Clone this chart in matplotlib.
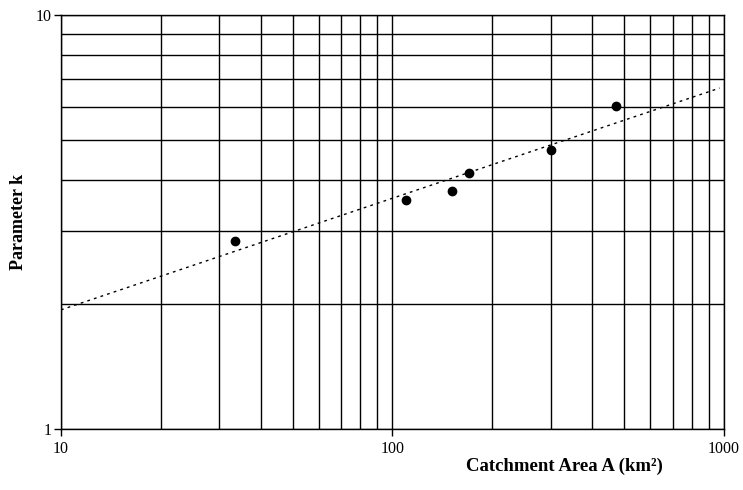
import numpy as np
import matplotlib.pyplot as plt
from matplotlib.ticker import LogLocator, NullFormatter, FixedLocator

# dados medidos (area da bacia em km2, parametro k)
area = [33.5, 110, 151, 170, 301, 473]
k = [2.85, 3.57, 3.76, 4.15, 4.72, 6.02]

# extremos da linha de tendencia (reta no grafico log-log)
trend_area = [10, 970]
trend_k = [1.94, 6.66]

xticks = [10, 100, 1000]
xlabels = ['10', '100', '1000']
yticks = [1, 10]
ylabels = ['1', '10']

plt.rcParams['font.family'] = ['Liberation Serif', 'DejaVu Serif']

fig = plt.figure(figsize=(7.43, 4.90), dpi=100)
ax = fig.add_axes([0.0821, 0.1245, 0.8923, 0.8449])

ax.set_xscale('log')
ax.set_yscale('log')
ax.set_xlim(10, 1000)
ax.set_ylim(1, 10)

#malha em todas as subdivisoes
ax.grid(True, which='both', color='black', lw=1.0)
ax.set_axisbelow(True)

ax.plot(trend_area, trend_k, color='black', lw=1.0, linestyle=(0, (2, 3)))
ax.plot(area, k, 'o', color='black', ms=6)

ax.xaxis.set_major_locator(FixedLocator(xticks))
ax.set_xticklabels(xlabels)
ax.yaxis.set_major_locator(FixedLocator(yticks))
ax.set_yticklabels(ylabels)
ax.xaxis.set_minor_locator(LogLocator(base=10, subs=np.arange(2, 10)))
ax.yaxis.set_minor_locator(LogLocator(base=10, subs=np.arange(2, 10)))
ax.xaxis.set_minor_formatter(NullFormatter())
ax.yaxis.set_minor_formatter(NullFormatter())
ax.tick_params(which='minor', length=0)
ax.tick_params(which='major', length=5, width=1, color='black', labelsize=11.5, direction='out')
ax.tick_params(axis='y', pad=2)

for s in ax.spines.values():
    s.set_color('black')
    s.set_linewidth(1.0)

ax.set_ylabel('Parameter k', fontsize=13, fontweight='bold')
ax.yaxis.set_label_coords(-0.052, 0.5)
ax.set_xlabel('Catchment Area A (km²)', fontsize=13.5, fontweight='bold')
ax.xaxis.set_label_coords(0.76, -0.07)

fig.savefig('out.png', dpi=100)
